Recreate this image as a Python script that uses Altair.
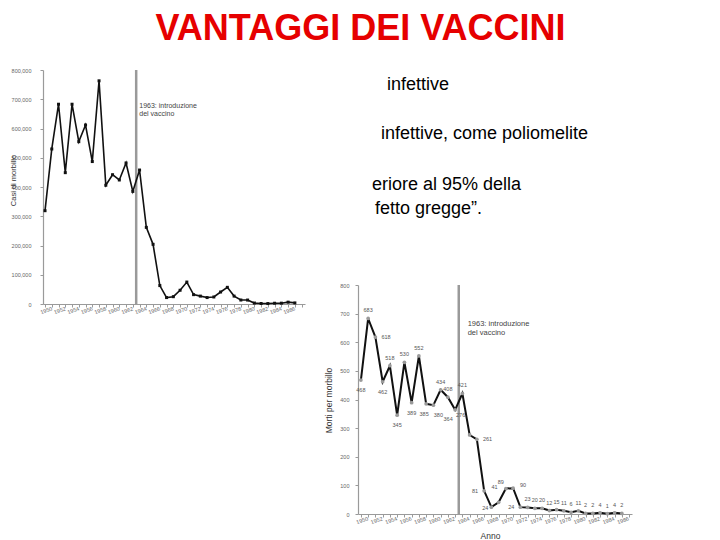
import altair as alt
import pandas as pd

# ---------------- data ----------------
slide_title = "VANTAGGI DEI VACCINI"
body_lines = ["infettive", "infettive, come poliomelite", "eriore al 95% della", "fetto gregge\u201d."]

case_years = list(range(1950, 1988))
cases = [319000, 530000, 683000, 449000, 683000, 555000, 612000, 487000, 763000, 406000,
         442000, 424000, 482000, 385000, 458000, 262000, 204000, 63000, 22000, 25000,
         47000, 75000, 32000, 27000, 22000, 24000, 41000, 57000, 27000, 13600,
         13500, 3100, 1700, 1500, 2600, 2800, 6300, 3700]

death_years = list(range(1950, 1987))
deaths = [468, 683, 618, 462, 518, 345, 530, 389, 552, 385,
          380, 434, 408, 364, 421, 276, 261, 81, 24, 41,
          89, 90, 24, 23, 20, 20, 12, 15, 11, 6,
          11, 2, 2, 4, 1, 4, 2]

vaccine_year = [1963.5]
note_text = "1963: introduzione\ndel vaccino"
left_note = {"anno": [1963.96], "val": [692000], "t": [note_text]}
right_note = {"anno": [1964.73], "val": [679], "t": [note_text]}

cases_ticks = list(range(0, 800001, 100000))
deaths_ticks = list(range(0, 801, 100))
left_year_ticks = list(range(1950, 1989))
left_year_labels = list(range(1950, 1987, 2))
right_year_ticks = list(range(1950, 1988))
right_year_labels = list(range(1950, 1987, 2))

y_title_left = "Casi di morbillo"
y_title_right = "Morti per morbillo"
x_title_right = "Anno"

# ---------------- style ----------------
W, H = 704, 532
FONT = "Liberation Sans"
AX_GREY = "#9a9a9a"
LBL_GREY = "#666666"

# label placement groups for the deaths chart (style only)
lab_above = [1951, 1954, 1956, 1958, 1961, 1962, 1964] + list(range(1973, 1987))
lab_below = [1950, 1953, 1955, 1957]
lab_right = [1952, 1966]
lab_left = [1967, 1972]
lab_custom = {1959: (-2, 10), 1960: (5, 10), 1963: (-7, 9), 1965: (-9, -20), 1968: (-6, 1),
              1969: (-4, -15), 1970: (-5, -7), 1971: (10, -3)}

body_x = [379, 373, 364, 367]
body_y = [81.5, 130.5, 181.5, 205.5]


def x_label_axis(offset, values, **extra):
    return alt.Axis(orient="bottom", offset=offset, values=values, format="d",
                    labelAngle=340, labelAlign="center", labelBaseline="top",
                    labelFontSize=5.5, labelColor=LBL_GREY, labelFont=FONT, labelPadding=4,
                    ticks=False, domain=False, grid=False, labelOverlap=False,
                    labelSeparation=0, **extra)


def x_tick_axis(offset, values):
    return alt.Axis(orient="bottom", offset=offset, values=values, labels=False,
                    tickSize=3, tickColor=AX_GREY, domainColor=AX_GREY, domainWidth=1.2,
                    title=None, grid=False)


# ---------------- left chart: cases ----------------
cases_df = pd.DataFrame({"anno": case_years, "casi": cases})
lscale_x = alt.Scale(domain=[1949.7, 1988.5], range=[35, 297], nice=False, zero=False)
lscale_y = alt.Scale(domain=[0, 800000], range=[296, 62], nice=False, zero=False)

ly = alt.Y("casi:Q", scale=lscale_y,
           axis=alt.Axis(orient="left", offset=-35, values=cases_ticks, format=",d",
                         labelFontSize=5.5, labelColor=LBL_GREY, labelFont=FONT,
                         labelPadding=9, tickSize=3, tickColor=AX_GREY, domainColor=AX_GREY,
                         domainWidth=1.2, title=y_title_left, titleFont=FONT,
                         titleFontSize=7.5, titleFontWeight="normal", titleColor="#333333",
                         titleX=-30, titleY=172, titleAngle=270, titleAlign="center",
                         titleBaseline="middle", grid=False, labelOverlap=False))

left_line = alt.Chart(cases_df).mark_line(color="#111111", strokeWidth=1.6).encode(
    x=alt.X("anno:Q", scale=lscale_x, axis=x_label_axis(296 - H, left_year_labels, title=None)),
    y=ly)
left_pts = alt.Chart(cases_df).mark_point(shape="square", filled=True, size=9, color="#111111",
                                          opacity=1).encode(
    x=alt.X("anno:Q", axis=None), y="casi:Q")
left_rule = alt.Chart(pd.DataFrame({"anno": vaccine_year})).mark_rule(
    color=AX_GREY, strokeWidth=2.5).encode(
    x=alt.X("anno:Q", scale=lscale_x, axis=x_tick_axis(296 - H, left_year_ticks)),
    y=alt.datum(0), y2=alt.datum(800000))
left_txt = alt.Chart(pd.DataFrame(left_note)).mark_text(
    align="left", baseline="top", font=FONT, fontSize=7, color="#444444",
    lineBreak="\n", lineHeight=8.3).encode(x=alt.X("anno:Q", axis=None), y="val:Q", text="t:N")

left = alt.layer(left_rule, left_line, left_pts, left_txt).resolve_axis(x="independent")

# ---------------- right chart: deaths ----------------
deaths_df = pd.DataFrame({"anno": death_years, "morti": deaths})
rscale_x = alt.Scale(domain=[1949.6, 1987.4], range=[350, 624], nice=False, zero=False)
rscale_y = alt.Scale(domain=[0, 800], range=[506, 277], nice=False, zero=False)

ry = alt.Y("morti:Q", scale=rscale_y,
           axis=alt.Axis(orient="left", offset=-350, values=deaths_ticks, format="d",
                         labelFontSize=5.5, labelColor=LBL_GREY, labelFont=FONT,
                         labelPadding=6, tickSize=3, tickColor=AX_GREY, domainColor=AX_GREY,
                         domainWidth=1.2, title=y_title_right, titleFont=FONT,
                         titleFontSize=8.5, titleFontWeight="normal", titleColor="#333333",
                         titleX=-30, titleY=392, titleAngle=270, titleAlign="center",
                         titleBaseline="middle", grid=False, labelOverlap=False))

right_line = alt.Chart(deaths_df).mark_line(color="#111111", strokeWidth=2).encode(
    x=alt.X("anno:Q", scale=rscale_x,
            axis=x_label_axis(506 - H, right_year_labels, title=x_title_right, titleFont=FONT,
                              titleFontSize=8.5, titleFontWeight="normal",
                              titleColor="#333333", titleX=482, titleY=17,
                              titleAlign="center", titleBaseline="top")),
    y=ry)
right_pts = alt.Chart(deaths_df).mark_circle(size=14, color="#9a9a9a", opacity=1).encode(
    x=alt.X("anno:Q", axis=None), y="morti:Q")
right_rule = alt.Chart(pd.DataFrame({"anno": vaccine_year})).mark_rule(
    color=AX_GREY, strokeWidth=2.5).encode(
    x=alt.X("anno:Q", scale=rscale_x, axis=x_tick_axis(506 - H, right_year_ticks)),
    y=alt.datum(0), y2=alt.datum(800))
right_txt = alt.Chart(pd.DataFrame(right_note)).mark_text(
    align="left", baseline="top", font=FONT, fontSize=7.5, color="#444444",
    lineBreak="\n", lineHeight=9.3).encode(x=alt.X("anno:Q", axis=None), y="val:Q", text="t:N")


def labels(years, align, dx, dy):
    return alt.Chart(deaths_df).transform_filter(
        alt.FieldOneOfPredicate(field="anno", oneOf=years)
    ).mark_text(align=align, baseline="middle", dx=dx, dy=dy, font=FONT, fontSize=5.5,
                color="#555555").encode(x=alt.X("anno:Q", axis=None), y="morti:Q",
                                        text="morti:Q")


label_layers = [
    labels(lab_above, "center", 0, -8),
    labels(lab_below, "center", 0, 10),
    labels(lab_right, "left", 6, 0),
    labels(lab_left, "right", -6, 0),
]
for yr, (ddx, ddy) in lab_custom.items():
    label_layers.append(labels([yr], "center", ddx, ddy))

right = alt.layer(right_rule, right_line, right_pts, *label_layers, right_txt).resolve_axis(
    x="independent")

# ---------------- slide text ----------------
title_layer = alt.Chart(pd.DataFrame({"t": [slide_title]})).mark_text(
    font=FONT, fontSize=36, fontWeight="bold", color="#e60000", align="center",
    baseline="alphabetic").encode(x=alt.value(352.5), y=alt.value(32), text="t:N")

body_layers = []
for line, bx, by in zip(body_lines, body_x, body_y):
    body_layers.append(
        alt.Chart(pd.DataFrame({"t": [line]})).mark_text(
            font=FONT, fontSize=18, color="#000000", align="left", baseline="alphabetic"
        ).encode(x=alt.value(bx), y=alt.value(by), text="t:N")
    )

chart = alt.layer(left, right, title_layer, *body_layers).resolve_scale(
    x="independent", y="independent"
).properties(
    width=W, height=H, autosize=alt.AutoSizeParams(type="none"), padding=0,
    background="white"
).configure_view(stroke=None).configure_axis(labelOverlap=False)

chart.save("out.html", embed_options={"renderer": "svg", "actions": False})
